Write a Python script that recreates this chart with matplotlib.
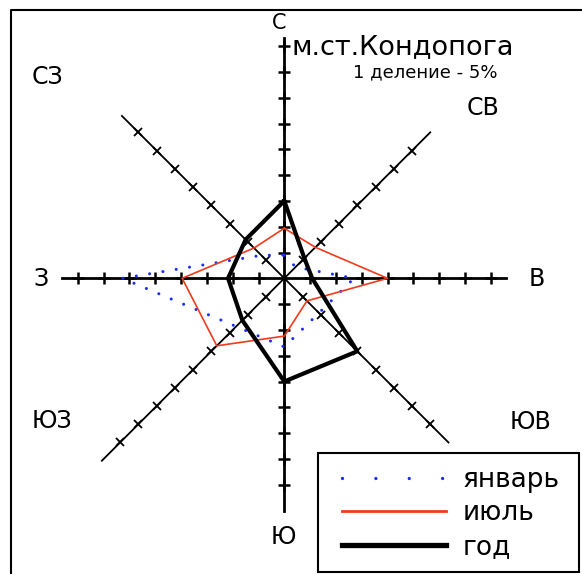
import numpy as np
import matplotlib
matplotlib.use("Agg")
import matplotlib.pyplot as plt
from matplotlib.lines import Line2D
from matplotlib.patches import Rectangle

plt.rcParams["font.family"] = ["DejaVu Sans"]

# directions: С, СВ, В, ЮВ, Ю, ЮЗ, З, СЗ (clockwise from north)
directions = ["С", "СВ", "В", "ЮВ", "Ю", "ЮЗ", "З", "СЗ"]
january = [4.5, 3.1, 13.5, 9.5, 13.3, 13.2, 31.4, 6.3]
july = [9.7, 8.5, 20.0, 6.2, 11.2, 18.5, 19.8, 8.3]
year = [15.0, 5.5, 5.4, 20.0, 20.0, 11.5, 10.9, 10.6]
series_labels = ["январь", "июль", "год"]

# length of each axis (%) and number of 5% divisions drawn on it
axis_len = [46.5, 40.0, 43.0, 45.0, 45.0, 50.0, 43.0, 44.5]
axis_ticks = [9, 7, 8, 8, 8, 9, 8, 8]
step = 5

W, H = 582, 574
cx, cy = 284.3, 278.3      # centre of the rose, pixels
px = 5.16                  # pixels per 1 %

fig = plt.figure(figsize=(W / 100, H / 100), dpi=100)
ax = fig.add_axes([0, 0, 1, 1])
ax.set_xlim(-cx / px, (W - cx) / px)
ax.set_ylim(-(H - cy) / px, cy / px)
ax.axis("off")

ang = np.deg2rad(np.arange(8) * 45)


def to_xy(r):
    r = np.asarray(r, dtype=float)
    return r * np.sin(ang), r * np.cos(ang)


# axes of the rose with division marks
for i in range(8):
    a = ang[i]
    diag = i % 2 == 1
    lw = 1.3 if diag else 2.0
    ax.plot([0, axis_len[i] * np.sin(a)], [0, axis_len[i] * np.cos(a)],
            color="black", lw=lw, zorder=2)
    k = np.arange(1, axis_ticks[i] + 1) * step
    ax.plot(k * np.sin(a), k * np.cos(a), ls="none",
            marker="x" if diag else "+", ms=6 if diag else 8,
            mew=1.3 if diag else 1.8, color="black", zorder=2)


def closed(r):
    x, y = to_xy(r)
    return np.append(x, x[0]), np.append(y, y[0])


blue = "#1a2cff"
x, y = closed(january)
ax.plot(x, y, color=blue, lw=2.2, ls=(0, (0.01, 4.4)),
        dash_capstyle="round", zorder=3)
x, y = closed(july)
line_jul, = ax.plot(x, y, color="#f03a1c", lw=1.2, zorder=4)
x, y = closed(year)
line_year, = ax.plot(x, y, color="black", lw=3.0, zorder=5)

# direction labels
lab_pos = {"С": (279, 23, 15), "СВ": (483, 108, 17), "В": (537, 279, 17),
           "ЮВ": (531, 422, 17), "Ю": (283, 537, 17), "ЮЗ": (52, 421, 17),
           "З": (41, 279, 17), "СЗ": (47, 77, 17)}
for name in directions:
    lx, ly, fs = lab_pos[name]
    ax.text(lx / W, 1 - ly / H, name, transform=ax.transAxes,
            ha="center", va="center", fontsize=fs)

ax.text(292 / W, 1 - 47 / H, "м.ст.Кондопога", transform=ax.transAxes,
        ha="left", va="center", fontsize=19.5)
ax.text(425 / W, 1 - 72 / H, "1 деление - 5%", transform=ax.transAxes,
        ha="center", va="center", fontsize=13)

# outer frame (left and top edges visible)
ax.plot([11 / W, 11 / W, 1], [0, 1 - 10 / H, 1 - 10 / H],
        transform=ax.transAxes, color="black", lw=1.5, clip_on=False)

# legend: entries without frame, box drawn separately
jan_handle = Line2D([], [], color=blue, lw=2.4, ls=(0, (0.01, 10.0)),
                    dash_capstyle="round")
leg = ax.legend([jan_handle, line_jul, line_year], series_labels,
                loc="upper left", bbox_to_anchor=(342 / W, 1 - 467 / H),
                borderaxespad=0, borderpad=0, fontsize=19, frameon=False,
                handlelength=3.95, handletextpad=0.62, labelspacing=0.28)
for h in leg.legend_handles[1:]:
    h.set_linewidth(h.get_linewidth() + 0.8)
ax.add_patch(Rectangle((318 / W, 1 - 572 / H), 261 / W, 119 / H,
                       transform=ax.transAxes, fill=False, ec="black",
                       lw=1.5, zorder=6))

fig.savefig("out.png", dpi=100)
